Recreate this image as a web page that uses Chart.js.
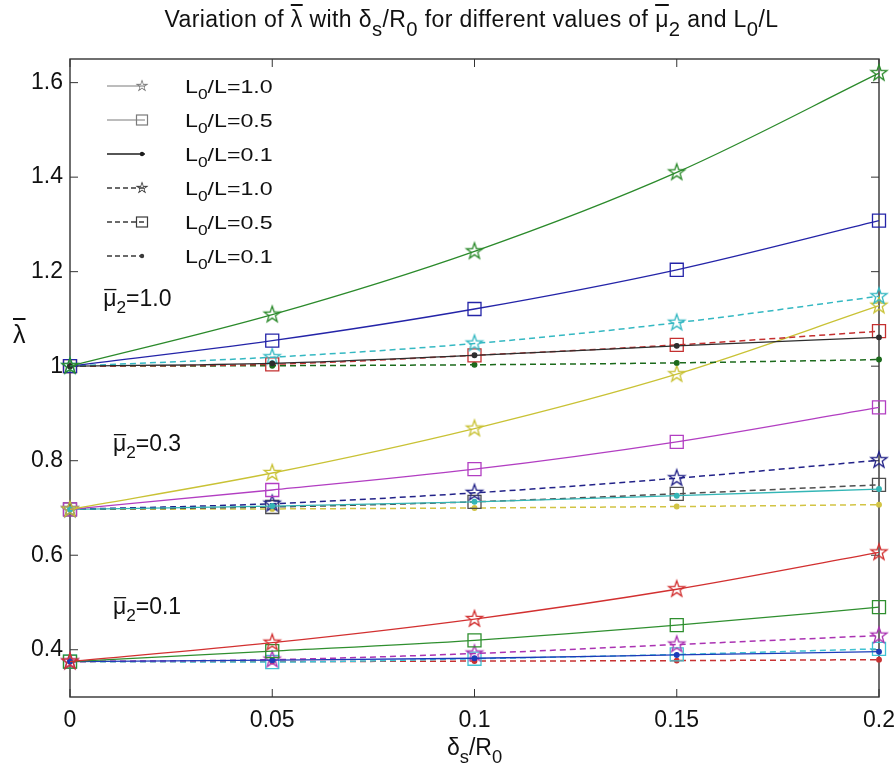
<!DOCTYPE html>
<html>
<head>
<meta charset="utf-8">
<script src="https://cdn.jsdelivr.net/npm/chart.js@4.4.1/dist/chart.umd.min.js"></script>
<style>
  html, body { margin: 0; padding: 0; background: #fff; }
  #wrap { position: relative; width: 895px; height: 771px; overflow: hidden; }
  #chart { position: absolute; left: 0; top: 0; }
  .lbl { position: absolute; font-family: "Liberation Sans", Arial, sans-serif; color: #111; white-space: nowrap; line-height: 1; }
  .lbl sub { font-size: 88%; vertical-align: -0.42em; line-height: 0; }
  .ov { text-decoration: overline; }
  #title { top: 8px; left: 0; width: 943px; text-align: center; font-size: 23px; letter-spacing: 0.4px; }
  #xtitle { top: 736px; left: 0; width: 949px; text-align: center; font-size: 23px; }
  #xtitle sub { font-size: 80%; }
  #ytitle { top: 322px; left: 13px; font-size: 25px; }
</style>
</head>
<body>
<div id="wrap">
  <canvas id="chart" width="895" height="771"></canvas>
  <div class="lbl" id="title">Variation of <span class="ov">λ</span> with δ<sub>s</sub>/R<sub>0</sub> for different values of <span class="ov">μ</span><sub>2</sub> and L<sub>0</sub>/L</div>
  <div class="lbl" id="xtitle">δ<sub>s</sub>/R<sub>0</sub></div>
  <div class="lbl" id="ytitle"><span class="ov">λ</span></div>
</div>
<script>
const FONT = '"Liberation Sans", Arial, Helvetica, sans-serif';

// x values (delta_s / R0)
const deltaRatio = [0, 0.05, 0.1, 0.15, 0.2];
const xTicks = [0, 0.05, 0.1, 0.15, 0.2];
const xTickLabels = ["0", "0.05", "0.1", "0.15", "0.2"];
const yTicks = [0.4, 0.6, 0.8, 1.0, 1.2, 1.4, 1.6];
const yTickLabels = ["0.4", "0.6", "0.8", "1", "1.2", "1.4", "1.6"];

// mu2 = 1.0
const mu10_L10_solid = [1.000, 1.109, 1.243, 1.410, 1.620];
const mu10_L05_solid = [1.000, 1.054, 1.121, 1.204, 1.308];
const mu10_L01_solid = [1.000, 1.006, 1.023, 1.043, 1.061];
const mu10_L10_dash  = [1.000, 1.019, 1.048, 1.092, 1.148];
const mu10_L05_dash  = [1.000, 1.004, 1.023, 1.045, 1.074];
const mu10_L01_dash  = [1.000, 1.001, 1.003, 1.007, 1.014];

// mu2 = 0.3
const mu03_L10_solid = [0.697, 0.774, 0.868, 0.983, 1.128];
const mu03_L05_solid = [0.697, 0.738, 0.782, 0.840, 0.913];
const mu03_L01_solid = [0.697, 0.704, 0.713, 0.726, 0.740];
const mu03_L10_dash  = [0.697, 0.709, 0.732, 0.763, 0.801];
const mu03_L05_dash  = [0.697, 0.702, 0.713, 0.730, 0.749];
const mu03_L01_dash  = [0.697, 0.698, 0.700, 0.703, 0.707];

// mu2 = 0.1
const mu01_L10_solid = [0.375, 0.415, 0.465, 0.528, 0.606];
const mu01_L05_solid = [0.375, 0.397, 0.420, 0.452, 0.490];
const mu01_L01_solid = [0.375, 0.378, 0.382, 0.389, 0.396];
const mu01_L10_dash  = [0.375, 0.379, 0.392, 0.411, 0.430];
const mu01_L05_dash  = [0.375, 0.374, 0.381, 0.390, 0.402];
const mu01_L01_dash  = [0.375, 0.375, 0.376, 0.377, 0.379];

const legendValues = ["1.0", "0.5", "0.1", "1.0", "0.5", "0.1"];
const muValues = ["1.0", "0.3", "0.1"];

// where the mu2 labels sit, in data units
const muLabelPos = [
  { x: 0.0082, y: 1.145 },
  { x: 0.0106, y: 0.838 },
  { x: 0.0106, y: 0.493 }
];

const series = [
  { data: mu10_L10_solid, color: "#2b8a2b", marker: "star",   dashed: false },
  { data: mu10_L05_solid, color: "#2424a8", marker: "square", dashed: false },
  { data: mu10_L01_solid, color: "#2e2e2e", marker: "dot",    dashed: false },
  { data: mu10_L10_dash,  color: "#34b8c2", marker: "star",   dashed: true  },
  { data: mu10_L05_dash,  color: "#c43030", marker: "square", dashed: true  },
  { data: mu10_L01_dash,  color: "#1c6a1c", marker: "dot",    dashed: true  },
  { data: mu03_L10_solid, color: "#c9c235", marker: "star",   dashed: false },
  { data: mu03_L05_solid, color: "#b23ec2", marker: "square", dashed: false },
  { data: mu03_L01_solid, color: "#34b6b6", marker: "dot",    dashed: false },
  { data: mu03_L10_dash,  color: "#222288", marker: "star",   dashed: true  },
  { data: mu03_L05_dash,  color: "#4e4e4e", marker: "square", dashed: true  },
  { data: mu03_L01_dash,  color: "#d2c444", marker: "dot",    dashed: true  },
  { data: mu01_L10_solid, color: "#d23030", marker: "star",   dashed: false },
  { data: mu01_L05_solid, color: "#2f8f2f", marker: "square", dashed: false },
  { data: mu01_L01_solid, color: "#1c3cba", marker: "dot",    dashed: false },
  { data: mu01_L10_dash,  color: "#aa32b2", marker: "star",   dashed: true  },
  { data: mu01_L05_dash,  color: "#40c2d2", marker: "square", dashed: true  },
  { data: mu01_L01_dash,  color: "#c83232", marker: "dot",    dashed: true  }
];

const starCache = {};
function starMarker(color) {
  if (starCache[color]) return starCache[color];
  const c = document.createElement("canvas");
  const s = 22;
  c.width = s; c.height = s;
  const g = c.getContext("2d");
  g.strokeStyle = color;
  g.lineWidth = 1.3;
  g.lineJoin = "miter";
  g.beginPath();
  for (let i = 0; i < 10; i++) {
    const r = i % 2 ? 3.4 : 8.5;
    const a = -Math.PI / 2 + i * Math.PI / 5;
    g.lineTo(s / 2 + r * Math.cos(a), s / 2 + r * Math.sin(a));
  }
  g.closePath();
  g.stroke();
  starCache[color] = c;
  return c;
}

function buildDataset(s) {
  const ds = {
    data: deltaRatio.map((x, i) => ({ x, y: s.data[i] })),
    borderColor: s.color,
    borderWidth: s.dashed ? 1.5 : 1.3,
    borderDash: s.dashed ? [6, 4] : [],
    pointBorderColor: s.color,
    pointBorderWidth: 1.3,
    cubicInterpolationMode: "monotone",
    fill: false,
    clip: false
  };
  if (s.marker === "star") {
    ds.pointStyle = starMarker(s.color);
    ds.pointRadius = 9;
  } else if (s.marker === "square") {
    ds.pointStyle = "rect";
    ds.pointRadius = 9.2;
    ds.pointBackgroundColor = "rgba(0,0,0,0)";
  } else {
    ds.pointStyle = "circle";
    ds.pointRadius = 2.3;
    ds.pointBackgroundColor = s.color;
  }
  return ds;
}

// text with subscripts: parts = [[text, isSub], ...]
function drawRich(ctx, parts, x, yMid, size) {
  ctx.textBaseline = "alphabetic";
  ctx.textAlign = "left";
  const base = yMid + size * 0.36;
  let cx = x;
  parts.forEach(([t, sub]) => {
    const fs = sub ? size * 0.75 : size;
    ctx.font = fs + "px " + FONT;
    ctx.fillText(t, cx, sub ? base + size * 0.32 : base);
    cx += ctx.measureText(t).width;
  });
  return cx;
}

const framePlugin = {
  id: "frame",
  beforeDatasetsDraw(chart) {
    const { ctx, chartArea: a, scales } = chart;
    ctx.save();
    ctx.strokeStyle = "#333";
    ctx.lineWidth = 1.4;
    ctx.strokeRect(a.left, a.top, a.right - a.left, a.bottom - a.top);
    ctx.lineWidth = 1;
    const tl = 8;
    ctx.beginPath();
    xTicks.forEach(v => {
      const px = scales.x.getPixelForValue(v);
      ctx.moveTo(px, a.bottom); ctx.lineTo(px, a.bottom - tl);
      ctx.moveTo(px, a.top); ctx.lineTo(px, a.top + tl);
    });
    yTicks.forEach(v => {
      const py = scales.y.getPixelForValue(v);
      ctx.moveTo(a.left, py); ctx.lineTo(a.left + tl, py);
      ctx.moveTo(a.right, py); ctx.lineTo(a.right - tl, py);
    });
    ctx.stroke();
    ctx.restore();
  },
  afterDraw(chart) {
    const { ctx, scales } = chart;
    ctx.save();
    ctx.fillStyle = "#111";

    // mu2 group labels
    muValues.forEach((val, i) => {
      const px = scales.x.getPixelForValue(muLabelPos[i].x);
      const py = scales.y.getPixelForValue(muLabelPos[i].y);
      const size = 23;
      ctx.font = size + "px " + FONT;
      const mw = ctx.measureText("μ").width;
      drawRich(ctx, [["μ", false], ["2", true], ["=" + val, false]], px, py, size);
      ctx.fillRect(px + 1, py + size * 0.36 - size * 0.74, mw - 1, 1.3);
    });

    // legend
    const lx0 = 107, lx1 = 145, ly0 = 86, step = 34;
    const markers = ["star", "square", "dot", "star", "square", "dot"];
    legendValues.forEach((val, i) => {
      const y = ly0 + i * step;
      const dashed = i >= 3;
      const col = i < 2 ? "#7a7a7a" : (i === 2 ? "#1e1e1e" : "#3a3a3a");
      ctx.strokeStyle = col;
      ctx.lineWidth = i < 2 ? 1 : 1.4;
      ctx.setLineDash(dashed ? [5, 3] : []);
      ctx.beginPath();
      ctx.moveTo(lx0, y); ctx.lineTo(lx1, y);
      ctx.stroke();
      ctx.setLineDash([]);
      const mx = lx1 - 3;
      if (markers[i] === "star") {
        const img = starMarker(col);
        ctx.drawImage(img, mx - 7, y - 7, 14, 14);
      } else if (markers[i] === "square") {
        ctx.lineWidth = 1.2;
        ctx.strokeRect(mx - 5.5, y - 5, 11, 10);
      } else {
        ctx.fillStyle = col;
        ctx.beginPath(); ctx.arc(mx, y, 2.2, 0, Math.PI * 2); ctx.fill();
      }
      ctx.fillStyle = "#111";
      // stretched text, as in the reference
      ctx.save();
      ctx.translate(185, 0);
      ctx.scale(1.22, 1);
      drawRich(ctx, [["L", false], ["0", true], ["/L=" + val, false]], 0, y, 19);
      ctx.restore();
    });
    ctx.restore();
  }
};

new Chart(document.getElementById("chart"), {
  type: "line",
  data: { datasets: series.map(buildDataset) },
  options: {
    responsive: false,
    animation: false,
    events: [],
    layout: { padding: { left: 0, right: 16, top: 59, bottom: 0 } },
    plugins: { legend: { display: false }, tooltip: { enabled: false }, title: { display: false } },
    scales: {
      x: {
        type: "linear",
        min: 0,
        max: 0.2,
        afterBuildTicks: s => { s.ticks = xTicks.map(v => ({ value: v })); },
        afterFit: s => { s.height = 74; s.paddingLeft = 0; s.paddingRight = 0; },
        grid: { display: false, drawTicks: false },
        border: { display: false },
        ticks: {
          padding: 10,
          color: "#111",
          maxRotation: 0,
          autoSkip: false,
          font: { family: FONT, size: 23 },
          callback: (v, i) => xTickLabels[i]
        }
      },
      y: {
        type: "linear",
        min: 0.3,
        max: 1.65,
        afterBuildTicks: s => { s.ticks = yTicks.map(v => ({ value: v })); },
        afterFit: s => { s.width = 70; s.paddingTop = 0; s.paddingBottom = 0; },
        grid: { display: false, drawTicks: false },
        border: { display: false },
        ticks: {
          padding: 7,
          color: "#111",
          autoSkip: false,
          font: { family: FONT, size: 23 },
          callback: (v, i) => yTickLabels[i]
        }
      }
    }
  },
  plugins: [framePlugin]
});
</script>
</body>
</html>
